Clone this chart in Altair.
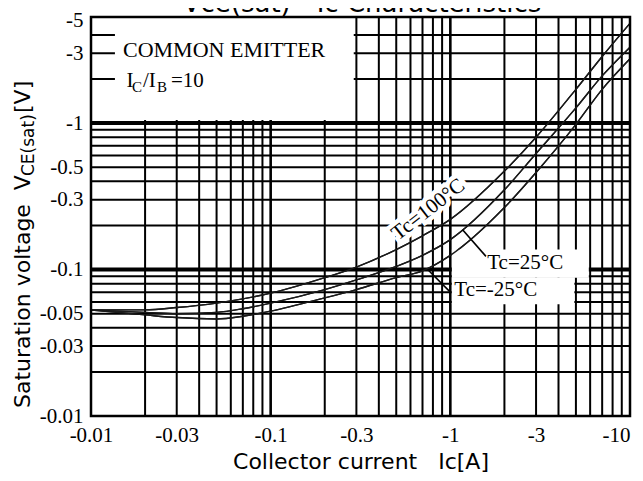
import altair as alt
import pandas as pd

# ---------------- data ----------------
ic = [0.01, 0.02, 0.03, 0.05, 0.07, 0.1, 0.2, 0.3, 0.5, 0.7, 1, 2, 3, 5, 7, 10]
v_tc100 = [0.053, 0.053, 0.055, 0.059, 0.063, 0.069, 0.088, 0.104, 0.137, 0.17, 0.22, 0.47, 0.8, 1.7, 2.85, 4.8]
v_tc25 = [0.053, 0.051, 0.050, 0.051, 0.054, 0.059, 0.073, 0.085, 0.105, 0.125, 0.16, 0.35, 0.62, 1.27, 2.1, 3.3]
v_tcm25 = [0.053, 0.049, 0.047, 0.046, 0.048, 0.052, 0.064, 0.073, 0.088, 0.098, 0.125, 0.265, 0.46, 0.98, 1.7, 2.75]

x_ticks = [0.01, 0.03, 0.1, 0.3, 1, 3, 10]
y_ticks = [0.01, 0.03, 0.05, 0.1, 0.3, 0.5, 1, 3, 5]
x_decades = [0.01, 0.1, 1]
y_decades = [0.01, 0.1, 1]
minor_steps = [2, 3, 4, 5, 6, 7, 8, 9]

W, H = 539, 399
xs = alt.Scale(type="log", domain=[0.01, 10], nice=False)
ys = alt.Scale(type="log", domain=[0.01, 5.3], nice=False)

SERIF = "Liberation Serif"
SANS = "DejaVu Sans"
NB = "\u00a0"

XAXIS = alt.Axis(
    values=x_ticks, labelExpr="'-' + datum.value", grid=False, ticks=False, domain=False,
    labelPadding=8, labelFlush=False, labelOverlap=False,
    labelAlign=alt.ExprRef(expr="datum.value >= 10 ? 'right' : 'center'"),
    title="Collector current" + NB * 3 + "Ic[A]", titlePadding=6)
YAXIS = alt.Axis(
    values=y_ticks, labelExpr="'-' + datum.value", grid=False, ticks=False, domain=False,
    labelPadding=8, labelFlush=False, labelOverlap=False, title=None)


def X(f):
    return alt.X(f, scale=xs, axis=XAXIS)


def Y(f):
    return alt.Y(f, scale=ys, axis=YAXIS)


# grid tables
vg = []
for d in x_decades:
    for k in minor_steps:
        vg.append({"v": round(d * k, 4), "w": 2})
    if d > 0.01:
        vg.append({"v": d, "w": 2.6})
hg = []
for d in y_decades:
    for k in minor_steps:
        if d * k < 5:
            hg.append({"v": round(d * k, 4), "w": 2})
    if d > 0.01:
        hg.append({"v": d, "w": 4})
vg = pd.DataFrame(vg)
hg = pd.DataFrame(hg)

curves = pd.DataFrame(
    [{"ic": a, "v": b, "s": "Tc=100"} for a, b in zip(ic, v_tc100)]
    + [{"ic": a, "v": b, "s": "Tc=25"} for a, b in zip(ic, v_tc25)]
    + [{"ic": a, "v": b, "s": "Tc=-25"} for a, b in zip(ic, v_tcm25)]
)

boxes = pd.DataFrame([
    {"x": 0.01359, "x2": 0.29, "y": 1.05, "y2": 5.3},
    {"x": 1.02, "x2": 5.9, "y": 0.088, "y2": 0.137},
    {"x": 1.02, "x2": 4.9, "y": 0.058, "y2": 0.088},
])

leaders = pd.DataFrame([
    {"id": "a", "x": 1.17, "y": 0.187}, {"id": "a", "x": 1.578, "y": 0.123},
    {"id": "b", "x": 0.748, "y": 0.100}, {"id": "b", "x": 0.987, "y": 0.0712},
])

labels = pd.DataFrame([
    {"x": 1.605, "y": 0.111, "t": "Tc=25°C"},
    {"x": 1.052, "y": 0.072, "t": "Tc=-25°C"},
])
lab100 = pd.DataFrame([{"x": 0.755, "y": 0.256, "t": "Tc=100°C"}])

one = pd.DataFrame({"a": [0]})

# ---------------- layers ----------------
lines = alt.Chart(curves).mark_line(interpolate="monotone", strokeWidth=1.4, color="#1a1a1a").encode(
    x=X("ic:Q"), y=Y("v:Q"), detail="s:N",
)
hgrid = alt.Chart(hg).mark_rule(color="black").encode(
    y=Y("v:Q"), strokeWidth=alt.StrokeWidth("w:Q", scale=None),
)
vgrid = alt.Chart(vg).mark_rule(color="black").encode(
    x=X("v:Q"), strokeWidth=alt.StrokeWidth("w:Q", scale=None),
)
white = alt.Chart(boxes).mark_rect(color="white").encode(
    x=X("x:Q"), x2="x2:Q", y=Y("y:Q"), y2="y2:Q",
)
leader = alt.Chart(leaders).mark_line(color="black", strokeWidth=1.6).encode(
    x=X("x:Q"), y=Y("y:Q"), detail="id:N"
)
tlabels = alt.Chart(labels).mark_text(font=SERIF, fontSize=21, align="left", baseline="middle", color="black").encode(
    x=X("x:Q"), y=Y("y:Q"), text="t:N"
)
halo = alt.Chart(lab100).mark_text(font=SERIF, fontSize=21, align="center", baseline="middle",
                                   angle=322, color="white", stroke="white", strokeWidth=9).encode(
    x=X("x:Q"), y=Y("y:Q"), text="t:N"
)
t100 = alt.Chart(lab100).mark_text(font=SERIF, fontSize=21, align="center", baseline="middle",
                                   angle=322, color="black").encode(
    x=X("x:Q"), y=Y("y:Q"), text="t:N"
)


def txt(s, x, y, size, font=SERIF, angle=0, align="left", baseline="alphabetic"):
    kw = dict(font=font, fontSize=size, align=align, baseline=baseline, color="black", text=s)
    if angle:
        kw["angle"] = angle
    return alt.Chart(one).mark_text(**kw).encode(x=alt.value(x), y=alt.value(y))


notes = [
    txt("COMMON EMITTER", 32, 39.5, 22),
    txt("I", 35.5, 69.5, 21),
    txt("C", 41, 74.5, 15),
    txt("/I", 52, 69.5, 21),
    txt("B", 66, 74.5, 15),
    txt("=10", 80, 69.5, 21),
    # rotated y title
    txt("Saturation voltage" + NB * 2 + "V", -61, 391, 22, font=SANS, angle=270),
    txt("CE(sat)", -57, 159, 17, font=SANS, angle=270),
    txt("[V]", -61, 96, 22, font=SANS, angle=270),
    # chart title (cut off at the top of the page, as in the reference)
    txt("Vce(sat) - Ic Characteristics", 271, -5, 26, font=SANS, align="center"),
]

frame = alt.Chart(one).mark_rect(fillOpacity=0, stroke="black", strokeWidth=2.5).encode(
    x=alt.value(0), x2=alt.value(W), y=alt.value(0), y2=alt.value(H)
)

chart = alt.layer(lines, hgrid, vgrid, white, lines, leader, halo, t100, tlabels, *notes, frame).properties(
    width=W, height=H,
    autosize=alt.AutoSizeParams(type="none"),
    padding={"left": 83, "top": 9, "right": 5, "bottom": 57},
    background="white",
).configure_view(stroke=None).configure_axis(
    labelFont=SERIF, labelFontSize=21, labelColor="black",
    titleFont=SANS, titleFontSize=22, titleFontWeight="normal", titleColor="black",
)

chart.save("out.html", embed_options={"renderer": "svg", "actions": False})
